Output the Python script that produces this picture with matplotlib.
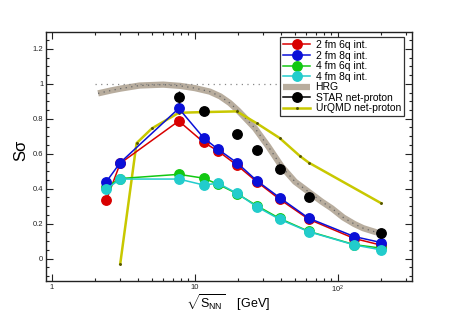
#!/usr/bin/env python3
"""
Skewness times sigma (S sigma) versus collision energy: model curves, HRG, STAR and UrQMD.
"""

import matplotlib
matplotlib.use("Agg")
import matplotlib.pyplot as plt
from matplotlib.lines import Line2D
from matplotlib.ticker import FixedLocator, NullFormatter, LogLocator

plt.rcParams['font.family'] = ['Liberation Sans', 'DejaVu Sans']
plt.rcParams['mathtext.fontset'] = 'custom'
plt.rcParams['mathtext.rm'] = 'Liberation Sans'
plt.rcParams['mathtext.it'] = 'Liberation Sans:italic'

# model energies (GeV)
snn_model = [2.4, 3.0, 7.7, 11.5, 14.5, 19.6, 27, 39, 62.4, 130, 200]
s_2fm_6q = [0.335, 0.545, 0.787, 0.665, 0.615, 0.535, 0.440, 0.340, 0.225, 0.115, 0.077]
s_2fm_8q = [0.440, 0.549, 0.859, 0.690, 0.625, 0.549, 0.446, 0.349, 0.231, 0.126, 0.092]
s_4fm_6q = [0.410, 0.458, 0.482, 0.460, 0.425, 0.372, 0.303, 0.230, 0.156, 0.080, 0.060]
s_4fm_8q = [0.397, 0.455, 0.455, 0.421, 0.431, 0.374, 0.297, 0.225, 0.154, 0.078, 0.050]

# HRG curve (read along the band centre)
snn_hrg = [2.1, 2.6, 3.0, 4.1, 6.0, 7.85, 10, 12.7, 15, 17.5, 20.1, 23, 26.3, 32.6,
           40.4, 50, 62, 76.9, 90.3, 109, 130, 150, 186]
s_hrg = [0.945, 0.962, 0.972, 0.990, 0.995, 0.988, 0.975, 0.955, 0.928, 0.890, 0.845,
         0.795, 0.745, 0.640, 0.526, 0.440, 0.383, 0.326, 0.288, 0.235, 0.198, 0.174, 0.150]
snn_unity = [2.0, 200]
s_unity = [1.0, 1.0]

# STAR net-proton
snn_star = [7.7, 11.5, 19.6, 27, 39, 62.4, 200]
s_star = [0.926, 0.846, 0.711, 0.621, 0.513, 0.354, 0.145]
err_star = [0.035, 0.012, 0.012, 0.01, 0.01, 0.012, 0.012]

# UrQMD net-proton
snn_urqmd = [3.0, 3.9, 5.0, 7.7, 11.5, 19.6, 27, 39, 54.4, 62.4, 200]
s_urqmd = [-0.03, 0.66, 0.745, 0.834, 0.838, 0.842, 0.774, 0.690, 0.585, 0.549, 0.317]

fig = plt.figure(figsize=(4.58, 3.13), dpi=100)
ax = fig.add_axes([46 / 458, 1 - 281 / 313, 366 / 458, 249 / 313])

c_red = '#d80000'
c_blue = '#0a10d8'
c_green = '#12c812'
c_cyan = '#22cccc'
c_yellow = '#c8c800'
c_hrg = '#b8ad9e'

# HRG band with dotted centre line
h_hrg, = ax.plot(snn_hrg, s_hrg, color=c_hrg, lw=4.5, solid_capstyle='butt',
                 solid_joinstyle='round', zorder=1)
ax.plot(snn_hrg, s_hrg, color='#666666', lw=0.9, ls=(0, (1, 3.5)), zorder=1.5)
ax.plot(snn_unity, s_unity, color='#888888', lw=0.9, ls=(0, (1, 3.5)), zorder=1)

# UrQMD
h_urq, = ax.plot(snn_urqmd, s_urqmd, color=c_yellow, lw=1.8, marker='.', ms=2.2,
                 mfc='#555500', mec='#555500', zorder=2)

ms = 6.8
lw = 1.1
h_red, = ax.plot(snn_model, s_2fm_6q, '-o', color=c_red, lw=lw, ms=ms, mec=c_red, zorder=3)
h_blue, = ax.plot(snn_model, s_2fm_8q, '-o', color=c_blue, lw=lw, ms=ms, mec=c_blue, zorder=4)
h_green, = ax.plot(snn_model, s_4fm_6q, '-o', color=c_green, lw=lw, ms=ms, mec=c_green, zorder=3)
h_cyan, = ax.plot(snn_model, s_4fm_8q, '-o', color=c_cyan, lw=lw, ms=ms, mec=c_cyan, zorder=4)

ax.errorbar(snn_star, s_star, yerr=err_star, fmt='o', color='black', ms=ms,
            elinewidth=1.0, capsize=0, zorder=5)
h_star = Line2D([], [], color='black', marker='o', ms=ms, lw=lw)

ax.set_xscale('log')
ax.set_xlim(0.908, 329)
ax.set_ylim(-0.128, 1.296)

ax.xaxis.set_major_locator(FixedLocator([1, 10, 100]))
ax.xaxis.set_minor_locator(LogLocator(base=10, subs=range(2, 10), numticks=20))
ax.xaxis.set_minor_formatter(NullFormatter())
ax.set_xticklabels(['1', '10', r'$10^{2}$'])
ax.set_yticks([0, 0.2, 0.4, 0.6, 0.8, 1.0, 1.2])
ax.set_yticklabels(['0', '0.2', '0.4', '0.6', '0.8', '1', '1.2'])
ax.yaxis.set_minor_locator(FixedLocator([i * 0.05 for i in range(-2, 27)]))

ax.tick_params(which='both', direction='in', top=True, right=True, width=0.8, colors='#222222',
               labelsize=5.5, pad=2)
ax.tick_params(which='major', length=5)
ax.tick_params(which='minor', length=2.5)
for sp in ax.spines.values():
    sp.set_linewidth(1.0)
    sp.set_color('#222222')

leg = ax.legend([h_red, h_blue, h_green, h_cyan, h_hrg, h_star, h_urq],
                ['2 fm 6q int.', '2 fm 8q int.', '4 fm 6q int.', '4 fm 8q int.',
                 'HRG', 'STAR net-proton', 'UrQMD net-proton'],
                loc='upper right', bbox_to_anchor=(404 / 458, 1 - 37 / 313),
                bbox_transform=fig.transFigure, fontsize=7.5, frameon=True,
                fancybox=False, edgecolor='#333333', framealpha=1,
                handlelength=2.6, handletextpad=0.5, labelspacing=0.05,
                borderpad=0.3, borderaxespad=0)
leg.get_frame().set_linewidth(0.9)

fig.text(21 / 458, 1 - 150 / 313, 'S\u03c3', rotation=90, fontsize=12, ha='center', va='center')
fig.text(186 / 458, 1 - 303 / 313, r'$\sqrt{\mathrm{S}_{\mathrm{NN}}}$    [GeV]', fontsize=9,
         ha='left', va='center')

fig.savefig('out.png', dpi=100)
